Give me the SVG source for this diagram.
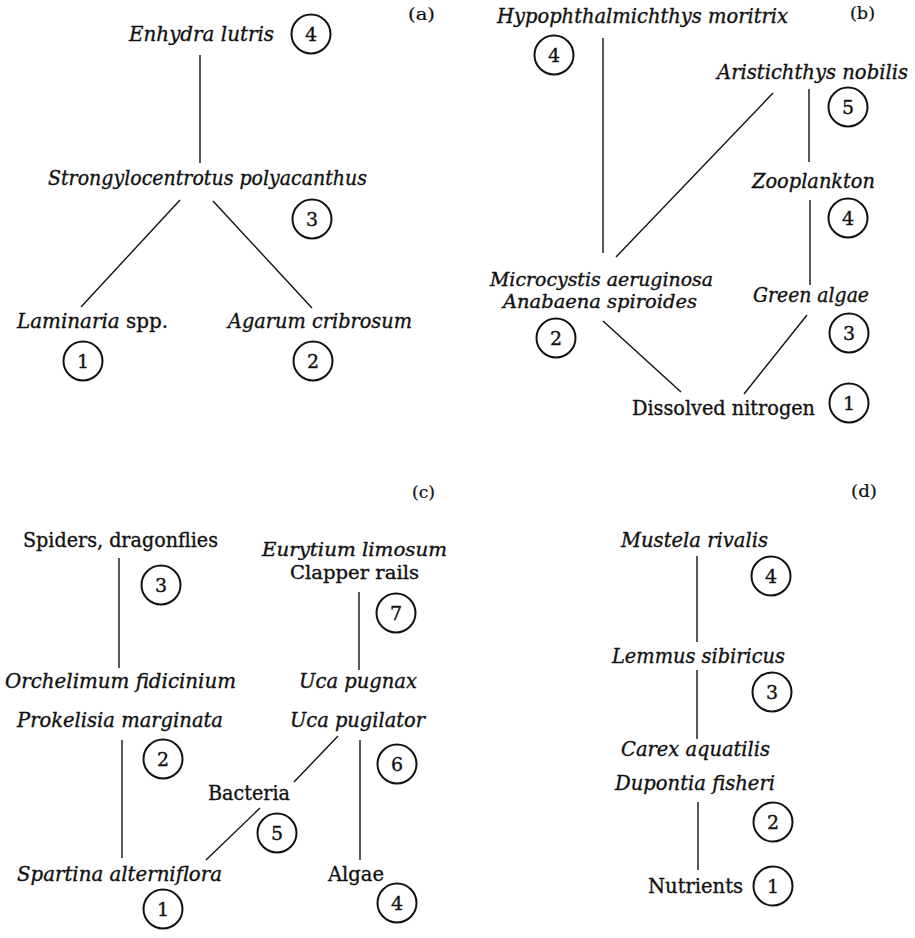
<svg xmlns="http://www.w3.org/2000/svg" width="915" height="938" viewBox="0 0 915 938">
<style>
text{font-family:"DejaVu Serif","Liberation Serif",serif;font-size:20px;fill:#111;stroke:#111;stroke-width:0.35}
.i{font-style:italic}
.s{font-size:18px}
.p{font-size:16px;stroke-width:0.2}
.n{font-size:19px;text-anchor:middle}
circle{fill:none;stroke:#111;stroke-width:2}
line{stroke:#111;stroke-width:1.4}
</style>
<rect width="915" height="938" fill="#fff"/>
<g id="connectors">
<line x1="200" y1="55" x2="200" y2="163"/>
<line x1="180" y1="200" x2="81" y2="307"/>
<line x1="213" y1="201" x2="312" y2="308"/>
<line x1="603" y1="38" x2="603" y2="253"/>
<line x1="773" y1="93" x2="616" y2="257"/>
<line x1="809" y1="89" x2="809" y2="162"/>
<line x1="810" y1="200" x2="810" y2="285"/>
<line x1="603" y1="321" x2="681" y2="392"/>
<line x1="807" y1="315" x2="744" y2="394"/>
<line x1="119" y1="558" x2="119" y2="668"/>
<line x1="359" y1="592" x2="359" y2="670"/>
<line x1="122" y1="740" x2="122" y2="858"/>
<line x1="338" y1="736" x2="294" y2="782"/>
<line x1="360" y1="740" x2="360" y2="860"/>
<line x1="260" y1="808" x2="206" y2="860"/>
<line x1="697" y1="556" x2="697" y2="642"/>
<line x1="697" y1="670" x2="697" y2="739"/>
<line x1="698" y1="802" x2="698" y2="870"/>
</g>
<g id="panel-labels">
<text class="p" x="408" y="20" textLength="27" lengthAdjust="spacingAndGlyphs">(a)</text>
<text class="p" x="850" y="19" textLength="25" lengthAdjust="spacingAndGlyphs">(b)</text>
<text class="p" x="412" y="498" textLength="23" lengthAdjust="spacingAndGlyphs">(c)</text>
<text class="p" x="851" y="497" textLength="26" lengthAdjust="spacingAndGlyphs">(d)</text>
</g>
<!-- panel a -->
<g id="a-enhydra"><text class="i" x="129" y="41" textLength="145" lengthAdjust="spacingAndGlyphs">Enhydra lutris</text><circle cx="311" cy="34" r="19.5"/><text class="n" x="311" y="41">4</text></g>
<g id="a-strongylocentrotus"><text class="i" x="48" y="185" textLength="319" lengthAdjust="spacingAndGlyphs">Strongylocentrotus polyacanthus</text><circle cx="312" cy="219" r="19.5"/><text class="n" x="312" y="226">3</text></g>
<g id="a-laminaria"><text x="17" y="328" textLength="151" lengthAdjust="spacingAndGlyphs"><tspan class="i">Laminaria</tspan> spp.</text><circle cx="83" cy="361" r="19.5"/><text class="n" x="83" y="368">1</text></g>
<g id="a-agarum"><text class="i" x="228" y="328" textLength="184" lengthAdjust="spacingAndGlyphs">Agarum cribrosum</text><circle cx="313" cy="361" r="19.5"/><text class="n" x="313" y="368">2</text></g>
<!-- panel b -->
<g id="b-hypophthalmichthys"><text class="i" x="497" y="23" textLength="291" lengthAdjust="spacingAndGlyphs">Hypophthalmichthys moritrix</text><circle cx="554" cy="55" r="19.5"/><text class="n" x="554" y="62">4</text></g>
<g id="b-aristichthys"><text class="i" x="717" y="79" textLength="191" lengthAdjust="spacingAndGlyphs">Aristichthys nobilis</text><circle cx="848" cy="107" r="19.5"/><text class="n" x="848" y="114">5</text></g>
<g id="b-zooplankton"><text class="i" x="752" y="188" textLength="123" lengthAdjust="spacingAndGlyphs">Zooplankton</text><circle cx="848" cy="218" r="19.5"/><text class="n" x="848" y="225">4</text></g>
<g id="b-microcystis"><text class="i s" x="490" y="286" textLength="223" lengthAdjust="spacingAndGlyphs">Microcystis aeruginosa</text><text class="i s" x="503" y="308" textLength="194" lengthAdjust="spacingAndGlyphs">Anabaena spiroides</text><circle cx="556" cy="338" r="19.5"/><text class="n" x="556" y="345">2</text></g>
<g id="b-green-algae"><text class="i" x="753" y="302" textLength="116" lengthAdjust="spacingAndGlyphs">Green algae</text><circle cx="849" cy="333" r="19.5"/><text class="n" x="849" y="340">3</text></g>
<g id="b-nitrogen"><text x="632" y="415" textLength="183" lengthAdjust="spacingAndGlyphs">Dissolved nitrogen</text><circle cx="849" cy="403" r="19.5"/><text class="n" x="849" y="410">1</text></g>
<!-- panel c -->
<g id="c-spiders"><text x="23" y="547" textLength="195" lengthAdjust="spacingAndGlyphs">Spiders, dragonflies</text><circle cx="161" cy="585" r="19.5"/><text class="n" x="161" y="592">3</text></g>
<g id="c-eurytium"><text class="i s" x="262" y="556" textLength="185" lengthAdjust="spacingAndGlyphs">Eurytium limosum</text><text class="s" x="290" y="579" textLength="129" lengthAdjust="spacingAndGlyphs">Clapper rails</text><circle cx="396" cy="613" r="19.5"/><text class="n" x="396" y="620">7</text></g>
<g id="c-orchelimum"><text class="i" x="5" y="688" textLength="231" lengthAdjust="spacingAndGlyphs">Orchelimum fidicinium</text><text class="i" x="17" y="727" textLength="206" lengthAdjust="spacingAndGlyphs">Prokelisia marginata</text><circle cx="163" cy="759" r="19.5"/><text class="n" x="163" y="766">2</text></g>
<g id="c-uca"><text class="i" x="299" y="688" textLength="118" lengthAdjust="spacingAndGlyphs">Uca pugnax</text><text class="i" x="290" y="727" textLength="135" lengthAdjust="spacingAndGlyphs">Uca pugilator</text><circle cx="397" cy="764" r="19.5"/><text class="n" x="397" y="771">6</text></g>
<g id="c-bacteria"><text x="208" y="800" textLength="82" lengthAdjust="spacingAndGlyphs">Bacteria</text><circle cx="277" cy="833" r="19.5"/><text class="n" x="277" y="840">5</text></g>
<g id="c-spartina"><text class="i" x="17" y="881" textLength="205" lengthAdjust="spacingAndGlyphs">Spartina alterniflora</text><circle cx="163" cy="909" r="19.5"/><text class="n" x="163" y="916">1</text></g>
<g id="c-algae"><text x="328" y="881" textLength="56" lengthAdjust="spacingAndGlyphs">Algae</text><circle cx="397" cy="903" r="19.5"/><text class="n" x="397" y="910">4</text></g>
<!-- panel d -->
<g id="d-mustela"><text class="i" x="621" y="547" textLength="147" lengthAdjust="spacingAndGlyphs">Mustela rivalis</text><circle cx="771" cy="576" r="19.5"/><text class="n" x="771" y="583">4</text></g>
<g id="d-lemmus"><text class="i" x="612" y="663" textLength="173" lengthAdjust="spacingAndGlyphs">Lemmus sibiricus</text><circle cx="772" cy="692" r="19.5"/><text class="n" x="772" y="699">3</text></g>
<g id="d-carex"><text class="i" x="621" y="756" textLength="149" lengthAdjust="spacingAndGlyphs">Carex aquatilis</text><text class="i" x="615" y="790" textLength="160" lengthAdjust="spacingAndGlyphs">Dupontia fisheri</text><circle cx="773" cy="822" r="19.5"/><text class="n" x="773" y="829">2</text></g>
<g id="d-nutrients"><text x="648" y="893" textLength="95" lengthAdjust="spacingAndGlyphs">Nutrients</text><circle cx="773" cy="886" r="19.5"/><text class="n" x="773" y="893">1</text></g>
</svg>
